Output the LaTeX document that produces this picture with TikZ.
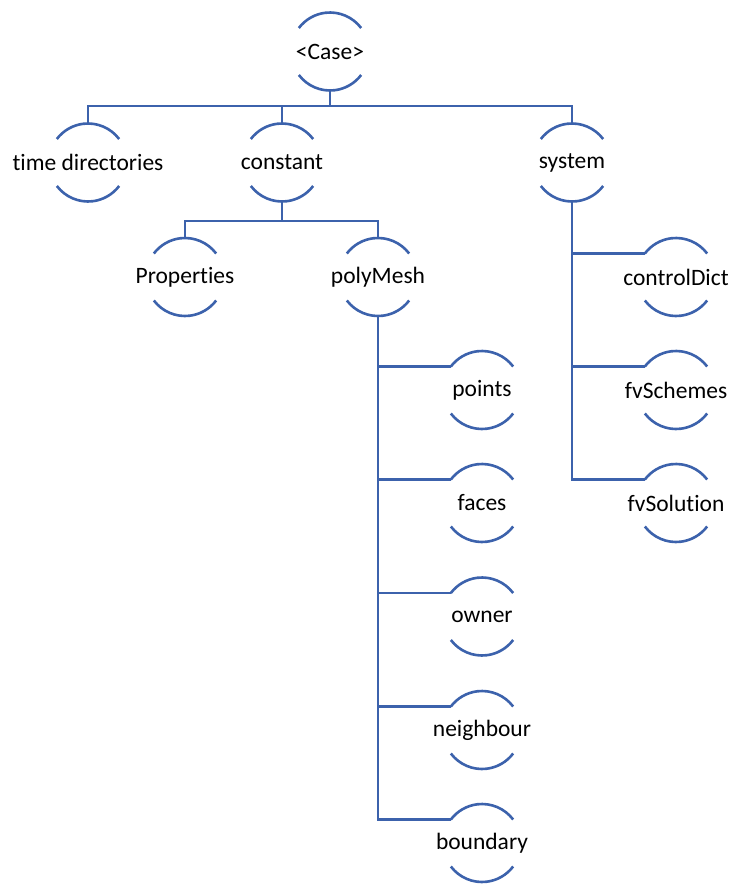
\documentclass[tikz,border=0pt]{standalone}
\usepackage{fontspec}
\setmainfont{Carlito}[RawFeature={-liga,-dlig,-clig}]
\definecolor{lnblue}{RGB}{60,98,172}
\tikzset{
  ln/.style={draw=lnblue,line width=2.6pt},
  cn/.style={circle,minimum size=78pt,inner sep=0pt,outer sep=0pt},
  lbl/.style={font=\fontsize{23.5}{28}\selectfont,text=black,inner sep=0pt}
}
\newcommand\cnode[3]{%
  \node[cn,label={[lbl]center:#3}] (#1) at (#2) {};
  \draw[ln] (#1.37) arc[start angle=37,end angle=143,radius=39pt];
  \draw[ln] (#1.217) arc[start angle=217,end angle=323,radius=39pt];
}
\begin{document}
\begin{tikzpicture}[x=1pt,y=1pt]
\useasboundingbox (0,0) rectangle (733,-886);
\cnode{case}{330,-51.5}{<Case>}
\cnode{td}{88,-162.5}{time directories}
\cnode{const}{282,-162.5}{constant}
\cnode{sys}{572,-162.5}{system}
\cnode{props}{185,-277}{Properties}
\cnode{poly}{378,-277}{polyMesh}
\cnode{cd}{676,-277}{controlDict}
\cnode{fvsch}{676,-390}{fvSchemes}
\cnode{fvsol}{676,-503}{fvSolution}
\cnode{pts}{482,-390}{points}
\cnode{faces}{482,-503}{faces}
\cnode{owner}{482,-616.5}{owner}
\cnode{neigh}{482,-730}{neighbour}
\cnode{bnd}{482,-843}{boundary}
\coordinate (bus1) at (330,-106);
\coordinate (bus2) at (282,-221);
\draw[ln] (case.south) -- (bus1);
\draw[ln] (td.north) |- (bus1);
\draw[ln] (sys.north) |- (bus1);
\draw[ln] (const.north) -- (const.north |- bus1);
\draw[ln] (const.south) -- (bus2);
\draw[ln] (props.north) |- (bus2);
\draw[ln] (poly.north) |- (bus2);
\draw[ln] (sys.south) |- (cd.143);
\draw[ln] (sys.south) |- (fvsch.143);
\draw[ln] (sys.south) |- (fvsol.143);
\draw[ln] (poly.south) |- (pts.143);
\draw[ln] (poly.south) |- (faces.143);
\draw[ln] (poly.south) |- (owner.143);
\draw[ln] (poly.south) |- (neigh.143);
\draw[ln] (poly.south) |- (bnd.143);
\end{tikzpicture}
\end{document}
